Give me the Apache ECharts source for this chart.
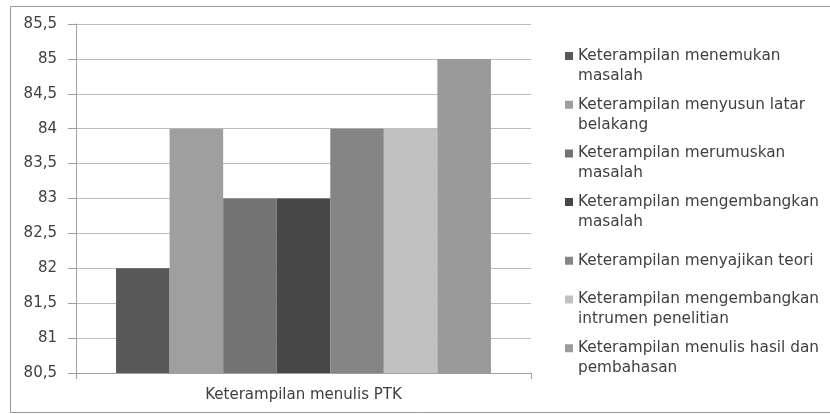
<!DOCTYPE html>
<html>
<head>
<meta charset="utf-8">
<script src="https://cdn.jsdelivr.net/npm/echarts@6/dist/echarts.min.js"></script>
<style>html,body{margin:0;padding:0;background:#fff}#c{width:830px;height:414px}</style>
</head>
<body>
<div id="c"></div>
<script>
var categories = ['Keterampilan menulis PTK'];
var seriesNames = [
  'Keterampilan menemukan masalah',
  'Keterampilan menyusun latar belakang',
  'Keterampilan merumuskan masalah',
  'Keterampilan mengembangkan masalah',
  'Keterampilan menyajikan teori',
  'Keterampilan mengembangkan intrumen penelitian',
  'Keterampilan menulis hasil dan pembahasan'
];
var seriesValues = [82, 84, 83, 83, 84, 84, 85];
var seriesColors = ['#585858', '#9f9f9f', '#737373', '#474747', '#858585', '#c1c1c1', '#9a9a9a'];
var yMin = 80.5, yMax = 85.5, yStep = 0.5;

var FONT = 'DejaVu Sans';
var TXT = '#404040';

var series = seriesNames.map(function (n, i) {
  return {
    name: n,
    type: 'bar',
    data: [seriesValues[i]],
    barGap: '0%',
    barCategoryGap: '17.6%',
    itemStyle: { color: seriesColors[i] }
  };
});

// icons: square aligned with first text line in a 40px tall item
var iconTop = 'path://M0,6H8V14H0Z M0,0H0.01V0.01H0Z M0,40H0.01V40.01H0Z';
var iconMid = 'path://M0,16H8V24H0Z M0,0H0.01V0.01H0Z M0,40H0.01V40.01H0Z';

var option = {
  animation: false,
  grid: { left: 76, right: 299, top: 24, bottom: 41, containLabel: false },
  xAxis: {
    type: 'category',
    data: categories,
    axisLine: { lineStyle: { color: '#a0a0a0', width: 1 } },
    axisTick: { show: true, length: 6, alignWithLabel: false, lineStyle: { color: '#a0a0a0' } },
    axisLabel: { color: TXT, fontFamily: FONT, fontSize: 15, margin: 15 },
    splitLine: { show: false }
  },
  yAxis: {
    type: 'value',
    min: yMin, max: yMax, interval: yStep,
    axisLine: { show: true, lineStyle: { color: '#a0a0a0', width: 1 } },
    axisTick: { show: true, length: 8, lineStyle: { color: '#a0a0a0' } },
    axisLabel: {
      color: TXT, fontFamily: FONT, fontSize: 15, margin: 19,
      formatter: function (v) { return String(Math.round(v * 10) / 10).replace('.', ','); }
    },
    splitLine: { show: true, lineStyle: { color: '#bdbdbd', width: 1 } }
  },
  legend: {
    orient: 'vertical',
    left: 560,
    top: 41,
    itemWidth: 8,
    itemHeight: 40,
    itemGap: 8.7,
    symbolKeepAspect: false,
    data: seriesNames.map(function (n, i) { return { name: n, icon: i === 4 ? iconMid : iconTop }; }),
    textStyle: {
      color: TXT, fontFamily: FONT, fontSize: 15.3, lineHeight: 20,
      width: 256, overflow: 'break', padding: [0, 0, 0, 0]
    },
    itemStyle: { borderWidth: 0 },
    selectedMode: false
  },
  graphic: [{
    type: 'rect',
    shape: { x: 10.5, y: 6.5, width: 830, height: 406 },
    style: { fill: 'none', stroke: '#9a9a9a', lineWidth: 1 },
    silent: true, z: -1
  }],
  series: series
};

var chart = echarts.init(document.getElementById('c'), null, { renderer: 'canvas' });
chart.setOption(option);
</script>
</body>
</html>
